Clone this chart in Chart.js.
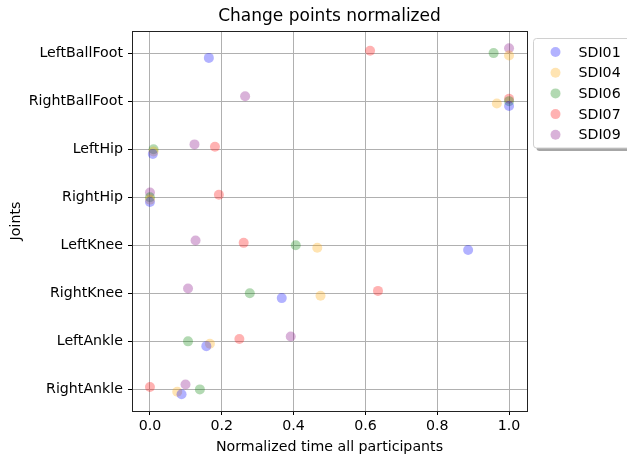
<!DOCTYPE html>
<html>
<head>
<meta charset="utf-8">
<script src="https://cdn.jsdelivr.net/npm/chart.js@4.4.0/dist/chart.umd.min.js"></script>
<style>
html, body { margin: 0; padding: 0; background: #fff; }
canvas { display: block; }
</style>
</head>
<body>
<canvas id="myChart" width="627" height="457"></canvas>
<script>
"use strict"

// joints, top row first
const joints = ['LeftBallFoot', 'RightBallFoot', 'LeftHip', 'RightHip', 'LeftKnee', 'RightKnee', 'LeftAnkle', 'RightAnkle']
const participants = ['SDI01', 'SDI04', 'SDI06', 'SDI07', 'SDI09']

// normalized change point time per joint, same order as joints
const sdi01 = [0.164, 1.0, 0.008, 0.0, 0.886, 0.367, 0.157, 0.088]
const sdi04 = [1.0, 0.966, 0.010, 0.0, 0.466, 0.475, 0.167, 0.076]
const sdi06 = [0.957, 1.0, 0.010, 0.0, 0.406, 0.278, 0.106, 0.139]
const sdi07 = [0.613, 1.0, 0.181, 0.192, 0.261, 0.635, 0.249, 0.0]
const sdi09 = [1.0, 0.265, 0.124, 0.0, 0.127, 0.106, 0.392, 0.099]

const x_ticks = [0.0, 0.2, 0.4, 0.6, 0.8, 1.0]

const all_values = [sdi01, sdi04, sdi06, sdi07, sdi09]
const colors = ['0,0,255', '255,165,0', '0,128,0', '255,0,0', '128,0,128']

const FONT_SIZE = 14.2
const TITLE = 'Change points normalized'

Chart.defaults.font.family = "'DejaVu Sans', sans-serif"
Chart.defaults.font.size = FONT_SIZE
Chart.defaults.color = '#000'

let datasets = []
for (const [i, name] of participants.entries()) {
    // small vertical dodge so the participants don't sit on top of each other
    const dodge = (i - 2) * 0.05
    datasets.push({
        label: name,
        data: all_values[i].map((v, k) => ({x: v, y: joints.length - 1 - k + dodge})),
        backgroundColor: 'rgba(' + colors[i] + ',0.3)',
        borderWidth: 0,
        pointRadius: 5,
        pointHoverRadius: 5,
    })
}

// axes box on all four sides + title centred over the axes
const frame_plugin = {
    id: 'frame',
    afterDraw(chart) {
        const a = chart.chartArea
        const c = chart.ctx
        c.save()
        c.strokeStyle = '#222'
        c.lineWidth = 1
        c.strokeRect(Math.round(a.left) + 0.5, Math.round(a.top) + 0.5,
            Math.round(a.right - a.left), Math.round(a.bottom - a.top))
        c.fillStyle = '#000'
        c.font = "17px 'DejaVu Sans', sans-serif"
        c.textAlign = 'center'
        c.textBaseline = 'middle'
        c.fillText(TITLE, (a.left + a.right) / 2, a.top - 14)
        c.restore()
    }
}

function rounded_box(c, x, y, w, h, r) {
    c.beginPath()
    c.moveTo(x + r, y)
    c.lineTo(x + w - r, y)
    c.arcTo(x + w, y, x + w, y + r, r)
    c.lineTo(x + w, y + h - r)
    c.arcTo(x + w, y + h, x + w - r, y + h, r)
    c.lineTo(x + r, y + h)
    c.arcTo(x, y + h, x, y + h - r, r)
    c.lineTo(x, y + r)
    c.arcTo(x, y, x + r, y, r)
    c.closePath()
}

// legend outside the axes, upper right, with drop shadow
const side_legend = {
    id: 'side_legend',
    afterDraw(chart) {
        const a = chart.chartArea
        const c = chart.ctx
        const x0 = Math.round(a.right) + 6.5
        const y0 = Math.round(a.top) + 7.5
        const w = 100, row = 20.7
        const h = chart.data.datasets.length * row + 6
        c.save()
        rounded_box(c, x0 + 3, y0 + 3, w, h, 3)
        c.fillStyle = 'rgba(0,0,0,0.35)'
        c.fill()
        rounded_box(c, x0, y0, w, h, 3)
        c.fillStyle = '#fff'
        c.fill()
        c.strokeStyle = '#d0d0d0'
        c.lineWidth = 1
        c.stroke()
        c.textBaseline = 'middle'
        c.textAlign = 'left'
        c.font = FONT_SIZE + "px 'DejaVu Sans', sans-serif"
        for (const [i, ds] of chart.data.datasets.entries()) {
            const cy = y0 + 13.5 + i * row
            c.beginPath()
            c.arc(x0 + 22, cy, 5, 0, Math.PI * 2)
            c.fillStyle = ds.backgroundColor
            c.fill()
            c.fillStyle = '#000'
            c.fillText(ds.label, x0 + 45, cy + 1)
        }
        c.restore()
    }
}

const ctx = document.getElementById('myChart')
const joints_chart = new Chart(ctx, {
    type: 'scatter',
    data: { datasets: datasets },
    plugins: [frame_plugin, side_legend],
    options: {
        responsive: false,
        animation: false,
        devicePixelRatio: 1,
        layout: { padding: { left: 0, right: 100, top: 31, bottom: 0 } },
        plugins: {
            legend: { display: false },
            tooltip: { enabled: false },
            title: { display: false },
        },
        scales: {
            x: {
                type: 'linear',
                min: -0.05,
                max: 1.05,
                afterBuildTicks: (scale) => { scale.ticks = x_ticks.map(v => ({value: v})) },
                afterFit: (scale) => { scale.height = 46 },
                ticks: { callback: (v) => Number(v).toFixed(1), padding: 3, maxRotation: 0 },
                grid: { color: '#b0b0b0', lineWidth: 1, tickColor: '#000', tickLength: 4 },
                border: { display: false },
                title: { display: true, text: 'Normalized time all participants', padding: { top: 0, bottom: 1 } },
            },
            y: {
                type: 'linear',
                min: -0.45,
                max: 7.46,
                afterBuildTicks: (scale) => { scale.ticks = joints.map((j, k) => ({value: k})) },
                afterFit: (scale) => { scale.width = 132 },
                ticks: { callback: (v) => joints[joints.length - 1 - v], padding: 5 },
                grid: { color: '#b0b0b0', lineWidth: 1, tickColor: '#000', tickLength: 4 },
                border: { display: false },
                title: { display: true, text: 'Joints', padding: { top: 8, bottom: 0 } },
            },
        },
    },
})
</script>
</body>
</html>
